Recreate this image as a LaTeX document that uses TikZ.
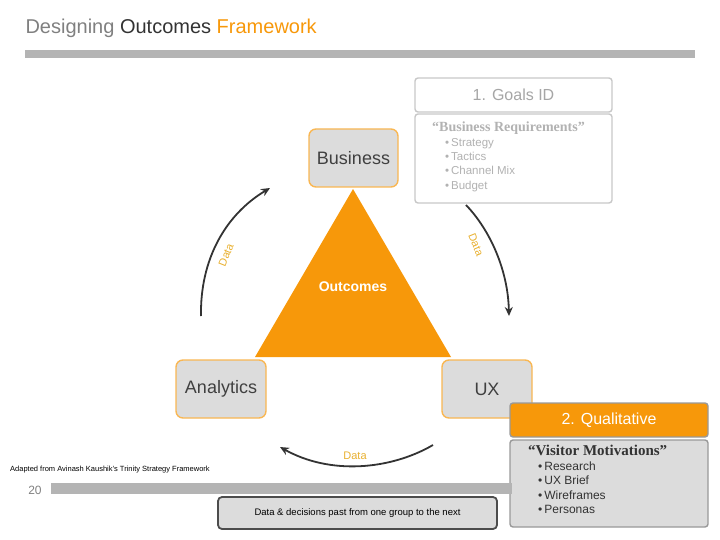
\documentclass[tikz,border=0pt]{standalone}
\usepackage{fontspec}
\setmainfont{Liberation Sans}
\newfontfamily\serifb{Liberation Serif}
\usetikzlibrary{arrows.meta}
\definecolor{org}{HTML}{F7980A}
\definecolor{lg}{HTML}{DCDCDC}
\definecolor{bd}{HTML}{C8C8C8}
\definecolor{tg}{HTML}{B4B4B4}
\definecolor{dlab}{HTML}{E8B030}
\tikzset{
 rolebox/.style={draw=org!70,line width=1.4pt,fill=lg,rounded corners=7pt,font=\fontsize{18}{20}\selectfont,text=black!75},
 cyc/.style={draw=black!80,line width=1.8pt,-{Stealth[length=9pt,width=8pt]}},
 dlbl/.style={text=dlab,font=\fontsize{11}{12}\selectfont},
 grayhdr/.style={draw=bd,line width=1.4pt,rounded corners=3pt,fill=white},
}
\begin{document}
\begin{tikzpicture}[x=1pt,y=-1pt]
\useasboundingbox (0,0) rectangle (720,540);
\node[anchor=west,font=\fontsize{20}{22}\selectfont] (title) at (22,28) {\textcolor{black!50}{Designing} \textcolor{black!80}{Outcomes} \textcolor{org}{Framework}};
\fill[tg] (25,50) rectangle (695,58);
% triangle
\fill[org] (353,189) -- (255,357) -- (451,357) -- cycle;
\node[font=\bfseries\fontsize{14}{16}\selectfont,text=white] (out) at (353,287) {Outcomes};
% role boxes
\node[rolebox,minimum width=89pt,minimum height=58pt] (bus) at (353.5,158) {Business};
\node[rolebox,minimum width=90pt,minimum height=58pt] (ana) at (221,389) {Analytics};
\node[rolebox,minimum width=90pt,minimum height=58pt] (ux) at (487,389) {UX};
% goals box
\node[grayhdr,minimum width=197pt,minimum height=34pt,text=black!35,font=\fontsize{16}{18}\selectfont] (gh) at (513.5,95) {1. Goals ID};
\node[grayhdr,minimum width=197pt,minimum height=89pt] (gb) at (513.5,158.5) {};
\node[anchor=north west,inner sep=0pt,align=left,text=black!30,font=\fontsize{11.5}{14.3}\selectfont] (gt) at (432,122) {{\serifb\bfseries\fontsize{14}{15}\selectfont “Business Requirements”}\\
\hspace{13pt}\textbullet\,Strategy\\
\hspace{13pt}\textbullet\,Tactics\\
\hspace{13pt}\textbullet\,Channel Mix\\
\hspace{13pt}\textbullet\,Budget};
% cycle arrows
\coordinate (a1) at (201,316); \coordinate (a2) at (270,188);
\draw[cyc] (a1) .. controls (200,260) and (225,215) .. (a2);
\node[dlbl,rotate=68] (d1) at (226,255) {Data};
\coordinate (b1) at (466,205); \coordinate (b2) at (509,316);
\draw[cyc] (b1) .. controls (490,230) and (508,270) .. (b2);
\node[dlbl,rotate=-68] (d2) at (476,245) {Data};
\coordinate (c1) at (433,445); \coordinate (c2) at (280,447);
\draw[cyc] (c1) .. controls (390,470) and (330,475) .. (c2);
\node[dlbl] (d3) at (355,456) {Data};
% qualitative box
\node[draw=black!40,line width=1.4pt,fill=org,rounded corners=3pt,minimum width=198pt,minimum height=34pt,text=white,font=\fontsize{16}{18}\selectfont] (qh) at (609,420) {2. Qualitative};
\node[draw=black!40,line width=1.4pt,fill=lg,rounded corners=3pt,minimum width=198pt,minimum height=87pt] (qb) at (609,483.5) {};
\node[anchor=north west,inner sep=0pt,align=left,text=black!80,font=\fontsize{12}{14.5}\selectfont] (qt) at (528,445) {{\serifb\bfseries\fontsize{15}{16}\selectfont “Visitor Motivations”}\\
\hspace{10pt}\textbullet\,Research\\
\hspace{10pt}\textbullet\,UX Brief\\
\hspace{10pt}\textbullet\,Wireframes\\
\hspace{10pt}\textbullet\,Personas};
% footer
\node[anchor=west,font=\fontsize{7.5}{9}\selectfont,inner sep=0pt] (src) at (10,470) {Adapted from Avinash Kaushik's Trinity Strategy Framework};
\node[font=\fontsize{12}{14}\selectfont,text=black!50] (pg) at (35,490) {20};
\fill[tg] (51,483) rectangle (512,494);
\node[draw=black!70,line width=1.8pt,fill=lg,rounded corners=4pt,minimum width=279pt,minimum height=32pt,font=\fontsize{9.5}{11}\selectfont] (note) at (357.5,513) {Data \& decisions past from one group to the next};
\end{tikzpicture}
\end{document}
